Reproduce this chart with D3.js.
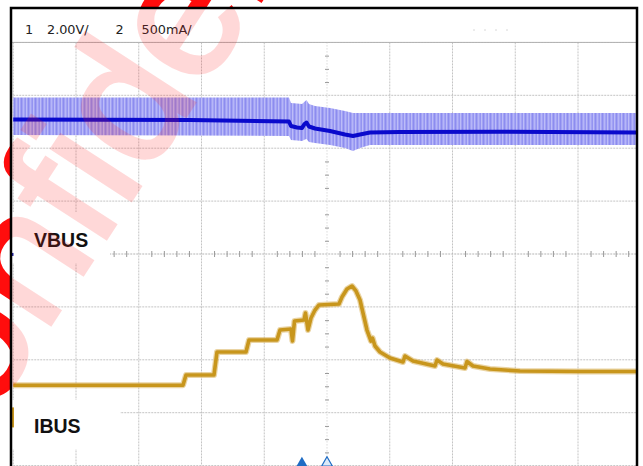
<!DOCTYPE html>
<html><head><meta charset="utf-8">
<script src="https://cdn.jsdelivr.net/npm/d3@7"></script>
<style>html,body{margin:0;padding:0;background:#fff;} svg{display:block}</style>
</head><body>
<svg id="c" width="643" height="466"></svg>
<script>
// ---------------- data (time and value in screen divisions) ----------------
const headerTexts = ["1", "2.00V/", "2", "500mA/"];
const traceNames = ["VBUS", "IBUS"];
const gridDivX = [-5, -4, -3, -2, -1, 0, 1, 2, 3, 4, 5];
const gridDivY = [-4, -3, -2, -1, 0, 1, 2, 3, 4];
const watermarkText = "Confidential";

// VBUS: centre trace and noise envelope (hi / lo)
const vbusT  = [-5.0, -2.183, -0.606, -0.574, -0.478, -0.398, -0.359, -0.327, -0.287, -0.191, 0.048, 0.287, 0.414, 0.526, 0.685, 1.163, 2.757, 5.0];
const vbusV  = [2.543, 2.533, 2.505, 2.420, 2.391, 2.382, 2.457, 2.486, 2.410, 2.372, 2.325, 2.259, 2.231, 2.259, 2.297, 2.306, 2.312, 2.297];
const vbusHi = [2.958, 2.958, 2.958, 2.854, 2.845, 2.836, 2.880, 2.911, 2.836, 2.798, 2.760, 2.703, 2.665, 2.665, 2.665, 2.665, 2.665, 2.665];
const vbusLo = [2.250, 2.240, 2.231, 2.155, 2.145, 2.136, 2.160, 2.174, 2.117, 2.098, 2.060, 2.004, 1.947, 2.004, 2.060, 2.060, 2.060, 2.060];

// IBUS trace
const ibusT = [-5.0, -2.295, -2.247, -1.801, -1.753, -1.291, -1.243, -0.797, -0.749, -0.574, -0.550, -0.518, -0.367, -0.343, -0.303, -0.255, -0.191, -0.127, 0.191, 0.239, 0.319, 0.398, 0.462, 0.526, 0.574, 0.637, 0.701, 0.725, 0.765, 0.845, 1.004, 1.211, 1.243, 1.371, 1.721, 1.753, 1.849, 2.199, 2.231, 2.327, 2.598, 3.076, 4.032, 5.0];
const ibusV = [-2.48, -2.48, -2.287, -2.287, -1.853, -1.853, -1.626, -1.626, -1.437, -1.418, -1.645, -1.267, -1.248, -1.115, -1.437, -1.210, -1.059, -0.964, -0.945, -0.813, -0.662, -0.605, -0.699, -0.870, -1.115, -1.437, -1.645, -1.588, -1.739, -1.853, -1.966, -2.042, -1.928, -2.023, -2.117, -2.004, -2.079, -2.155, -2.032, -2.117, -2.174, -2.212, -2.221, -2.221];

// trigger / reference markers (time, in divisions)
const markerT = [-0.4, 0];
const markerFilled = [true, false];

// ---------------- drawing ----------------
const svg = d3.select("#c");
const W = 643, H = 466;
const F = {l: 11, t: 8, r: 637, b: 466};
const x = d3.scaleLinear().domain([-5, 5]).range([13.25, 640.75]);
const y = d3.scaleLinear().domain([-4, 4]).range([465.6, 42.4]);

const defs = svg.append("defs");
defs.append("clipPath").attr("id", "plot").append("rect")
  .attr("x", F.l + 1).attr("y", F.t + 1).attr("width", F.r - F.l - 2).attr("height", F.b - F.t);
defs.append("clipPath").attr("id", "outside").append("path")
  .attr("clip-rule", "evenodd")
  .attr("d", `M0,0H${W}V${H}H0Z M${F.l},${F.t}H${F.r}V${H + 5}H${F.l}Z`);
const pat = defs.append("pattern").attr("id", "env").attr("patternUnits", "userSpaceOnUse")
  .attr("width", 7).attr("height", 40);
pat.append("rect").attr("width", 7).attr("height", 40).attr("fill", "#a2a2f4");
pat.append("rect").attr("x", 0).attr("width", 1).attr("height", 40).attr("fill", "#8c8cef");
pat.append("rect").attr("x", 2).attr("width", 1).attr("height", 40).attr("fill", "#b6b6f8");
pat.append("rect").attr("x", 4).attr("width", 1).attr("height", 40).attr("fill", "#9494f1");
pat.append("rect").attr("x", 5).attr("width", 1).attr("height", 40).attr("fill", "#bcbcf8");
const soft = defs.append("filter").attr("id", "soft").attr("x", "-5%").attr("y", "-20%").attr("width", "110%").attr("height", "140%");
soft.append("feGaussianBlur").attr("stdDeviation", 0.5);

svg.append("rect").attr("width", W).attr("height", H).attr("fill", "#fff");

const plot = svg.append("g").attr("clip-path", "url(#plot)");

// grid
const gridColor = "#c4c4c4";
plot.append("g").selectAll("line").data(gridDivX.filter(d => d !== 0)).join("line")
  .attr("x1", d => x(d)).attr("x2", d => x(d)).attr("y1", y(4)).attr("y2", y(-4))
  .attr("stroke", gridColor).attr("stroke-width", 1).attr("stroke-dasharray", "2,1");
plot.append("g").selectAll("line").data(gridDivY.filter(d => d !== 0)).join("line")
  .attr("x1", x(-5)).attr("x2", x(5)).attr("y1", d => y(d)).attr("y2", d => y(d))
  .attr("stroke", gridColor).attr("stroke-width", 1).attr("stroke-dasharray", "2,1");

// centre axes with minor ticks
const minorX = d3.range(-25, 26).map(i => i / 5).filter(v => Math.abs(v - Math.round(v)) > 1e-6);
const minorY = d3.range(-16, 17).map(i => i / 4).filter(v => Math.abs(v - Math.round(v)) > 1e-6);
plot.append("line").attr("x1", x(-5)).attr("x2", x(5)).attr("y1", y(0)).attr("y2", y(0))
  .attr("stroke", "#b4b4b4").attr("stroke-dasharray", "2,1");
plot.append("line").attr("x1", x(0)).attr("x2", x(0)).attr("y1", y(4)).attr("y2", y(-4))
  .attr("stroke", "#c8c8c8").attr("stroke-dasharray", "1,2");
const axX = plot.append("g").attr("transform", `translate(0,${y(0) - 3})`)
  .call(d3.axisBottom(x).tickValues(minorX).tickSize(6).tickFormat(""));
axX.select(".domain").remove();
axX.selectAll("line").attr("stroke", "#999");
const axY = plot.append("g").attr("transform", `translate(${x(0) + 2},0)`)
  .call(d3.axisLeft(y).tickValues(minorY).tickSize(4).tickFormat(""));
axY.select(".domain").remove();
axY.selectAll("line").attr("stroke", "#999");

// label boxes
plot.append("rect").attr("x", F.l + 1).attr("y", 212).attr("width", 98).attr("height", 51).attr("fill", "#fff");
plot.append("rect").attr("x", F.l + 1).attr("y", 400).attr("width", 108).attr("height", 49).attr("fill", "#fff");

// channel ground markers at left edge
plot.append("rect").attr("x", 12).attr("y", y(-2.9)).attr("width", 2).attr("height", 20).attr("fill", "#c8961e");
plot.append("rect").attr("x", 11.5).attr("y", y(0.02)).attr("width", 2).attr("height", 3).attr("fill", "#1c1ca0");

// VBUS envelope and trace
const vb = vbusT.map((t, i) => ({t, v: vbusV[i], hi: vbusHi[i], lo: vbusLo[i]}));
plot.append("path").datum(vb)
  .attr("d", d3.area().x(d => x(d.t)).y0(d => y(d.lo)).y1(d => y(d.hi)))
  .attr("fill", "url(#env)");
plot.append("path").datum(vb)
  .attr("d", d3.line().x(d => x(d.t)).y(d => y(d.v)))
  .attr("fill", "none").attr("stroke", "#0a0acc").attr("stroke-width", 4).attr("stroke-linejoin", "round");

// IBUS trace
const ib = ibusT.map((t, i) => ({t, v: ibusV[i]}));
const ibLine = d3.line().x(d => x(d.t)).y(d => y(d.v));
plot.append("path").datum(ib).attr("d", ibLine)
  .attr("fill", "none").attr("stroke", "#dcb865").attr("stroke-width", 6).attr("stroke-linejoin", "round").attr("opacity", 0.6);
plot.append("path").datum(ib).attr("d", ibLine).attr("filter", "url(#soft)")
  .attr("fill", "none").attr("stroke", "#c8961f").attr("stroke-width", 3.6).attr("stroke-linejoin", "round");

// trace labels
const labelY = [247, 433];
svg.append("g").selectAll("text").data(traceNames).join("text")
  .attr("x", 34).attr("y", (d, i) => labelY[i])
  .attr("font-family", "Liberation Sans, Arial, sans-serif").attr("font-weight", "bold")
  .attr("font-size", 19.5).attr("fill", "#111").text(d => d);

// header
svg.append("rect").attr("x", F.l + 1).attr("y", F.t + 1).attr("width", F.r - F.l - 2).attr("height", y(4) - F.t - 1.5).attr("fill", "#fff");
svg.append("line").attr("x1", F.l).attr("x2", F.r).attr("y1", y(4)).attr("y2", y(4)).attr("stroke", "#b0b0b0");
const headerX = [25, 47, 115.5, 141.5];
svg.append("g").selectAll("text").data(headerTexts).join("text")
  .attr("x", (d, i) => headerX[i]).attr("y", 33.5)
  .attr("font-family", "DejaVu Sans, Verdana, sans-serif").attr("font-size", 12.8)
  .attr("fill", "#222").text(d => d);
svg.append("line").attr("x1", 473).attr("x2", 515).attr("y1", 30).attr("y2", 30)
  .attr("stroke", "#d8d8d8").attr("stroke-dasharray", "2,9");

// bottom markers
const tri = d3.symbol().type(d3.symbolTriangle).size(50);
svg.append("g").selectAll("path").data(markerT).join("path")
  .attr("transform", d => `translate(${x(d)},${463})`)
  .attr("d", tri)
  .attr("fill", (d, i) => markerFilled[i] ? "#1f6cc4" : "#dce9f8")
  .attr("stroke", "#1f6cc4").attr("stroke-width", (d, i) => markerFilled[i] ? 0 : 1.2);

// watermark (strong outside the frame, faint over the screen)
const wmT = "translate(-80,525) rotate(-57)";
const wmLayers = [
  {clip: "url(#outside)", color: "#ff0d0d", opacity: 1},
  {clip: "url(#plot)", color: "#ff2020", opacity: 0.17}
];
wmLayers.forEach(L => {
  svg.append("g").attr("clip-path", L.clip).attr("opacity", L.opacity)
    .append("text").attr("transform", wmT)
    .attr("font-family", "Liberation Sans, Arial, sans-serif").attr("font-size", 178)
    .attr("fill", L.color).attr("stroke", L.color).attr("stroke-width", 4)
    .text(watermarkText);
});

// frame
svg.append("path").attr("d", `M${F.l},${H + 2}V${F.t}H${F.r}V${H + 2}`)
  .attr("fill", "none").attr("stroke", "#000").attr("stroke-width", 2.5);
</script>
</body></html>
